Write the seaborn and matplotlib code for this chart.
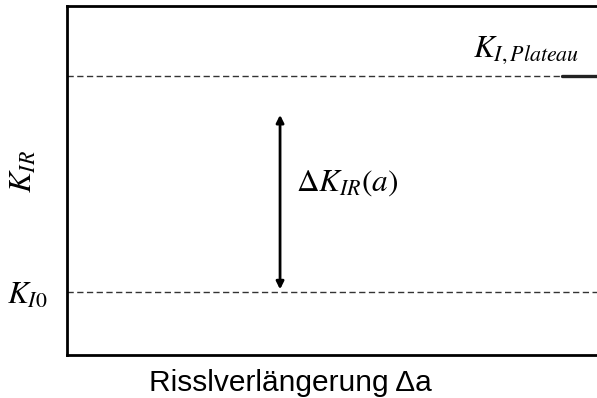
import matplotlib
matplotlib.use("Agg")
import matplotlib.pyplot as plt
import seaborn as sns
import pandas as pd

# Stress-intensity levels (schematic units)
level_names = ["K_I0", "K_I,Plateau"]
level_values = [1.8, 8.0]
x_range = [0.0, 10.0]

# Double arrow marking the rise ΔK_IR(a)
arrow_x = 3.96
arrow_span = [1.88, 6.88]

# Short solid mark at the plateau level
plateau_mark_x = [9.2, 10.0]

sns.set_theme(style="white")
plt.rcParams["mathtext.fontset"] = "stix"
plt.rcParams["font.family"] = ["Liberation Sans", "DejaVu Sans"]
plt.rcParams["text.color"] = "black"
plt.rcParams["axes.labelcolor"] = "black"
plt.rcParams["ytick.color"] = "black"

fig = plt.figure(figsize=(5.97, 3.98), dpi=100)
ax = fig.add_axes([67 / 597, 1 - 355 / 398, 538 / 597, 349 / 398])

rows = []
for name, val in zip(level_names, level_values):
    for x in x_range:
        rows.append({"level": name, "x": x, "K": val})
df = pd.DataFrame(rows)

sns.lineplot(data=df, x="x", y="K", units="level", estimator=None,
             color="#333333", linewidth=1.0, linestyle=(0, (4.5, 2.5)), ax=ax)

mark = pd.DataFrame({"x": plateau_mark_x, "K": [level_values[1]] * 2})
sns.lineplot(data=mark, x="x", y="K", color="#222222", linewidth=2.4, ax=ax)

ax.annotate("", xy=(arrow_x, arrow_span[1]), xytext=(arrow_x, arrow_span[0]),
            arrowprops=dict(arrowstyle="<|-|>", color="black", lw=2.0,
                            mutation_scale=11, shrinkA=0, shrinkB=0))

ax.text(arrow_x + 0.3, 4.92, r"$\Delta K_{IR}(a)$", fontsize=22.5,
        va="center", ha="left", color="black")
ax.text(7.55, 8.54, r"$K_{I,Plateau}$", fontsize=22.5, va="baseline",
        ha="left", color="black")

ax.set_xlim(*x_range)
ax.set_ylim(0, 10)
ax.set_xticks([])
ax.set_yticks([level_values[0]])
ax.set_yticklabels([r"$K_{I0}$"], fontsize=22.5)
ax.tick_params(axis="y", length=0, pad=14)

ax.set_ylabel(r"$K_{IR}$", fontsize=22.5, labelpad=16)
ax.yaxis.set_label_coords(-0.052, 0.527)
ax.set_xlabel("Risslverlängerung Δa", fontsize=21.5, labelpad=0)
ax.xaxis.set_label_coords(0.416, -0.04)
ax.xaxis.label.set_va("top")

for side in ["left", "bottom", "top"]:
    ax.spines[side].set_visible(True)
    ax.spines[side].set_color("black")
    ax.spines[side].set_linewidth(2.0)
ax.spines["right"].set_visible(False)

fig.savefig("out.png", dpi=100, facecolor="white")
